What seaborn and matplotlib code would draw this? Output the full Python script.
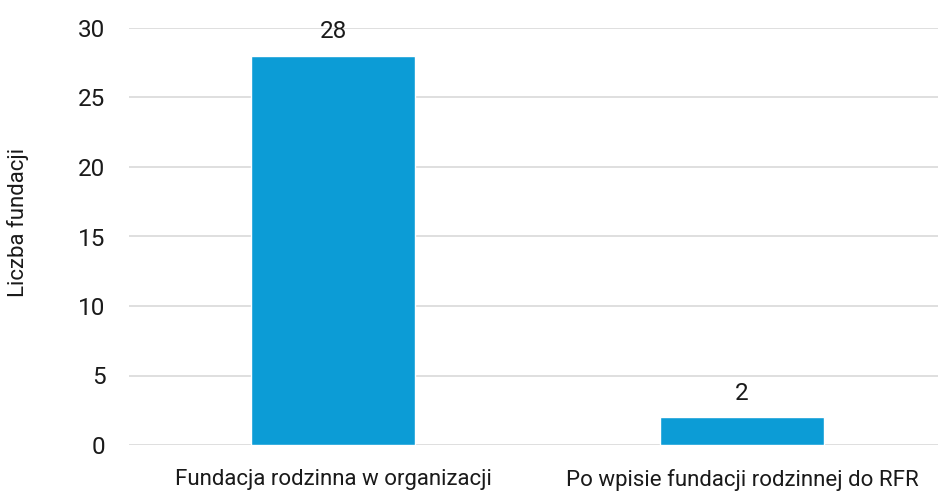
import matplotlib
matplotlib.use("Agg")
import matplotlib.pyplot as plt
import seaborn as sns
import pandas as pd

categories = ["Fundacja rodzinna w organizacji", "Po wpisie fundacji rodzinnej do RFR"]
values = [28, 2]
y_ticks = [0, 5, 10, 15, 20, 25, 30]

sns.set_theme(style="white")
plt.rcParams["font.family"] = ["Roboto", "DejaVu Sans"]

df = pd.DataFrame({"kategoria": categories, "liczba": values})

fig = plt.figure(figsize=(9.38, 4.94), dpi=100)
ax = fig.add_axes([129 / 938, (494 - 445) / 494, (938 - 129) / 938, (445 - 28) / 494])

sns.barplot(data=df, x="kategoria", y="liczba", color="#0c9cd6", width=0.40,
            saturation=1, ax=ax, zorder=3)

ax.set_ylim(0, 30)
ax.set_xlim(-0.499, 1.479)
ax.set_yticks(y_ticks)
ax.yaxis.grid(True, color="#d9d9d9", linewidth=1.2, zorder=0)
ax.set_axisbelow(True)
for s in ax.spines.values():
    s.set_visible(False)
ax.tick_params(axis="both", length=0, colors="#1a1a1a")
ax.tick_params(axis="y", pad=17, labelsize=17.5)
ax.tick_params(axis="x", pad=17, labelsize=16)
ax.set_xlabel("")
ax.set_ylabel("")
fig.text(18 / 938, (494 - 222) / 494, "Liczba fundacji", rotation=90,
         ha="center", va="center", fontsize=16, color="#1a1a1a")

for i, v in enumerate(values):
    ax.text(i, v + 0.9, str(v), ha="center", va="bottom", fontsize=17.5, color="#1a1a1a")

fig.savefig("out.png", dpi=100)
